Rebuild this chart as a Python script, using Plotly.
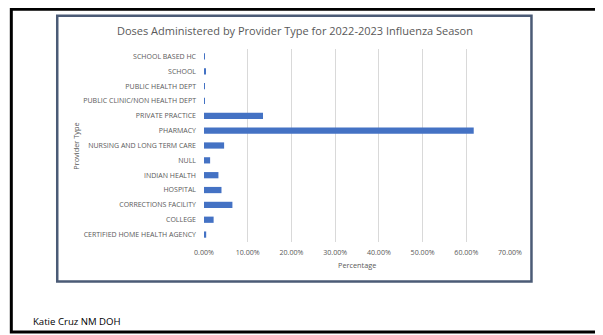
import plotly.graph_objects as go

categories = [
    "CERTIFIED HOME HEALTH AGENCY",
    "COLLEGE",
    "CORRECTIONS FACILITY",
    "HOSPITAL",
    "INDIAN HEALTH",
    "NULL",
    "NURSING AND LONG TERM CARE",
    "PHARMACY",
    "PRIVATE PRACTICE",
    "PUBLIC CLINIC/NON HEALTH DEPT",
    "PUBLIC HEALTH DEPT",
    "SCHOOL",
    "SCHOOL BASED HC",
]
percentages = [0.005, 0.022, 0.065, 0.040, 0.033, 0.014, 0.046, 0.617, 0.135, 0.0015, 0.0003, 0.004, 0.002]
x_ticks = [0, 0.1, 0.2, 0.3, 0.4, 0.5, 0.6, 0.7]

# page body has an 8px margin; work in page pixels and shift
OFF = 8
W, H = 603 - OFF, 335 - OFF
L, R, T, B = 204 - OFF, 510.5 - OFF, 49.3 - OFF, 242.5 - OFF
ml, mr, mt, mb = L, W - R, T, H - B
pw, ph = R - L, B - T

def px(x):
    return (x - OFF - L) / pw

def py(y):
    return (B - (y - OFF)) / ph

FONT = "Open Sans"
GRAY = "#595959"

fig = go.Figure(go.Bar(
    y=categories, x=percentages, orientation="h",
    marker=dict(color="#4472c4", line=dict(width=0)),
    width=0.42,
))

fig.update_layout(
    width=W, height=H,
    margin=dict(l=ml, r=mr, t=mt, b=mb, pad=0),
    paper_bgcolor="white", plot_bgcolor="white",
    showlegend=False,
    font=dict(family=FONT, color=GRAY, size=7),
    xaxis=dict(
        range=[0, 0.7], tickvals=x_ticks, tickformat=".2%",
        showgrid=True, gridcolor="#d9d9d9", gridwidth=1,
        zeroline=False, showline=False,
        tickfont=dict(size=7.1, color=GRAY),
        ticks="", ticklabelstandoff=5,
    ),
    yaxis=dict(
        categoryorder="array", categoryarray=categories,
        showgrid=False, zeroline=False, showline=False,
        tickfont=dict(size=7, color=GRAY),
        ticks="", ticklabelstandoff=7,
        range=[-0.5, len(categories) - 0.5],
    ),
    shapes=[
        dict(type="rect", xref="paper", yref="paper",
             x0=px(11), x1=px(598), y0=py(332.5), y1=py(9.6),
             line=dict(color="black", width=3), layer="below"),
        dict(type="rect", xref="paper", yref="paper",
             x0=px(57), x1=px(532), y0=py(282), y1=py(16),
             line=dict(color="#4b5b76", width=2.5), layer="below"),
    ],
    annotations=[
        dict(text="Doses Administered by Provider Type for 2022-2023 Influenza Season",
             xref="paper", yref="paper", x=px(295), y=py(31), showarrow=False,
             xanchor="center", yanchor="middle",
             font=dict(size=11, color=GRAY, family=FONT)),
        dict(text="Percentage", xref="paper", yref="paper", x=px(357), y=py(266),
             showarrow=False, xanchor="center", yanchor="middle",
             font=dict(size=7.3, color=GRAY, family=FONT)),
        dict(text="Provider Type", xref="paper", yref="paper", x=px(75), y=py(146),
             showarrow=False, xanchor="center", yanchor="middle", textangle=-90,
             font=dict(size=7.4, color=GRAY, family=FONT)),
        dict(text="Katie Cruz NM DOH", xref="paper", yref="paper", x=px(31), y=py(322),
             showarrow=False, xanchor="left", yanchor="middle",
             font=dict(size=9.6, color="black", family=FONT)),
    ],
)

fig.write_html("out.html")
